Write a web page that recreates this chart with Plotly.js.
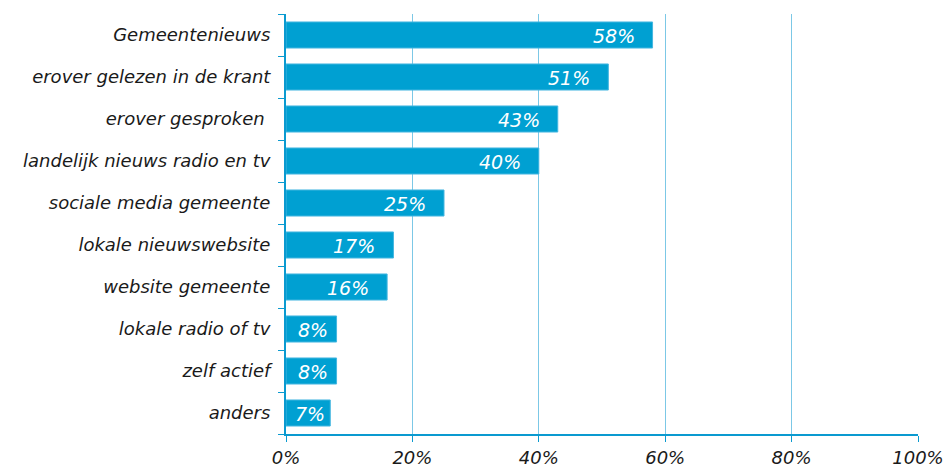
<!DOCTYPE html>
<html>
<head>
<meta charset="utf-8">
<script src="https://cdn.plot.ly/plotly-3.0.1.min.js"></script>
<style>html,body{margin:0;padding:0;background:#fff;}#chart{width:947px;height:468px;}</style>
</head>
<body>
<div id="chart"></div>
<script>
const categories = ["Gemeentenieuws", "erover gelezen in de krant", "erover gesproken\u00a0", "landelijk nieuws radio en tv", "sociale media gemeente", "lokale nieuwswebsite", "website gemeente", "lokale radio of tv", "zelf actief", "anders"];
const values = [58, 51, 43, 40, 25, 17, 16, 8, 8, 7];
const tickVals = [0, 20, 40, 60, 80, 100];
const tickText = ["0%", "20%", "40%", "60%", "80%", "100%"];

const FONT = "DejaVu Sans, Verdana, sans-serif";
const BLUE = "#00a0d2";
const AXIS = "#0a9ad0";
const GRID = "#7cc8e6";

const annotations = values.map((v, i) => {
  const small = v < 10;
  return {
    x: small ? v / 2 : v, y: categories[i], xref: "x", yref: "y",
    text: "<i>" + v + "%</i>", showarrow: false,
    xanchor: small ? "center" : "right", xshift: small ? 2 : -16, yshift: -1,
    font: {family: FONT, size: 19, color: "#ffffff"}
  };
});

const data = [{
  type: "bar", orientation: "h",
  x: values, y: categories,
  marker: {color: BLUE, line: {color: "#45b6e0", width: 1}},
  hoverinfo: "none"
}];

const layout = {
  width: 947, height: 468,
  margin: {l: 286, r: 29, t: 14, b: 34},
  paper_bgcolor: "#ffffff", plot_bgcolor: "#ffffff",
  bargap: 0.38,
  showlegend: false,
  font: {family: FONT, size: 18, color: "#1a1a1a"},
  xaxis: {
    range: [0, 100], tickvals: tickVals, ticktext: tickText.map(t => "<i>" + t + "</i>"),
    showgrid: true, gridcolor: GRID, gridwidth: 1,
    zeroline: false, showline: true, linecolor: AXIS, linewidth: 2,
    ticks: "outside", ticklen: 6, tickcolor: AXIS, tickwidth: 1,
    ticklabelstandoff: 0,
    tickfont: {family: FONT, size: 18, color: "#1a1a1a"}, fixedrange: true
  },
  yaxis: {
    autorange: "reversed", type: "category",
    tickvals: categories, ticktext: categories.map(c => "<i>" + c + "</i>"),
    showgrid: false, zeroline: false, showline: true, linecolor: AXIS, linewidth: 2,
    ticks: "outside", tickson: "boundaries", ticklen: 6, tickcolor: AXIS, tickwidth: 1,
    ticklabelstandoff: 10,
    tickfont: {family: FONT, size: 18, color: "#1a1a1a"}, fixedrange: true
  },
  annotations: annotations
};

Plotly.newPlot("chart", data, layout, {displayModeBar: false, staticPlot: true});
</script>
</body>
</html>
